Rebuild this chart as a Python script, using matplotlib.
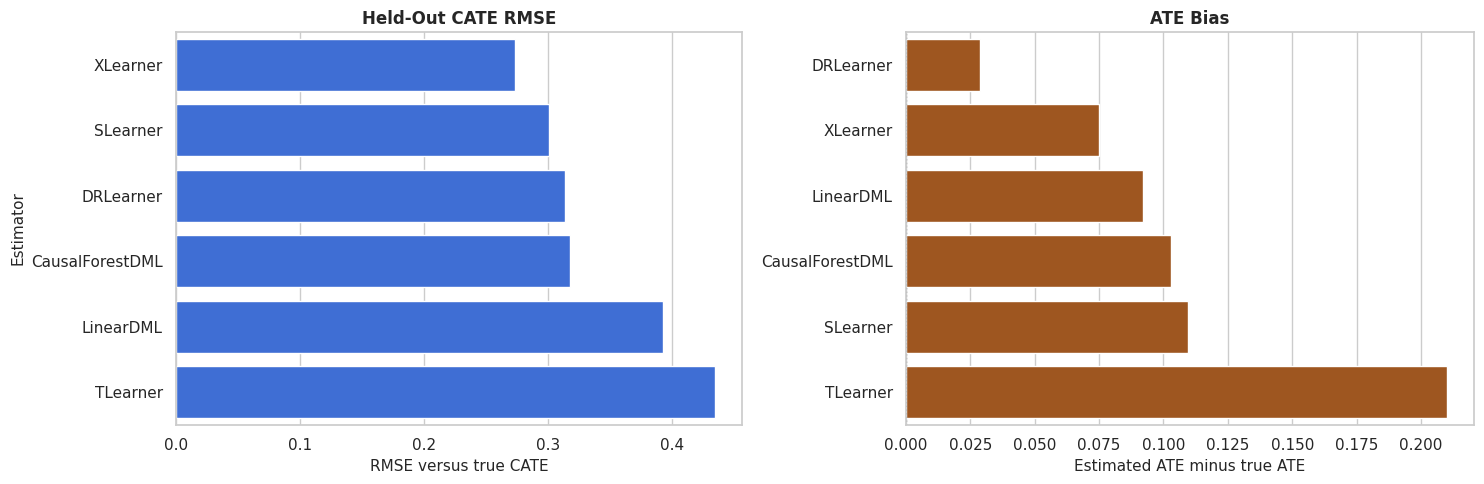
import numpy as np
import matplotlib
matplotlib.use("Agg")
import matplotlib.pyplot as plt
import seaborn as sns

# held-out CATE RMSE per estimator
rmse_names = ["XLearner", "SLearner", "DRLearner", "CausalForestDML", "LinearDML", "TLearner"]
rmse_vals = [0.2737, 0.3011, 0.3140, 0.3181, 0.3931, 0.4350]

# ATE bias per estimator
bias_names = ["DRLearner", "XLearner", "LinearDML", "CausalForestDML", "SLearner", "TLearner"]
bias_vals = [0.0286, 0.0749, 0.0920, 0.1029, 0.1095, 0.2101]

sns.set_theme(style="whitegrid")

fig = plt.figure(figsize=(14.84, 4.84), dpi=100)
ax1 = fig.add_axes([176 / 1484, 59 / 484, 566 / 1484, 393 / 484])
ax2 = fig.add_axes([906 / 1484, 59 / 484, 568 / 1484, 393 / 484])

ax = ax1
pos = np.arange(len(rmse_names))
ax.barh(pos, rmse_vals, height=0.8, color="#3F6ED4")
ax.set_yticks(pos)
ax.set_yticklabels(rmse_names)
ax.set_ylim(len(rmse_names) - 0.5, -0.5)
ax.set_title("Held-Out CATE RMSE", fontweight="bold", fontsize=12)
ax.set_xlabel("RMSE versus true CATE", fontsize=11)
ax.set_ylabel("Estimator", fontsize=11)
ax.grid(axis="y", visible=False)

ax = ax2
pos = np.arange(len(bias_names))
ax.barh(pos, bias_vals, height=0.8, color="#9E5620")
ax.axvline(0, color="gray", linestyle=":", linewidth=1)
ax.set_yticks(pos)
ax.set_yticklabels(bias_names)
ax.set_ylim(len(bias_names) - 0.5, -0.5)
ax.set_xlim(0, max(bias_vals) * 1.05)
ax.set_xticks(np.arange(0, 0.201, 0.025))
ax.set_title("ATE Bias", fontweight="bold", fontsize=12)
ax.set_xlabel("Estimated ATE minus true ATE", fontsize=11)
ax.set_ylabel("")
ax.grid(axis="y", visible=False)

plt.savefig("out.png", dpi=100)
